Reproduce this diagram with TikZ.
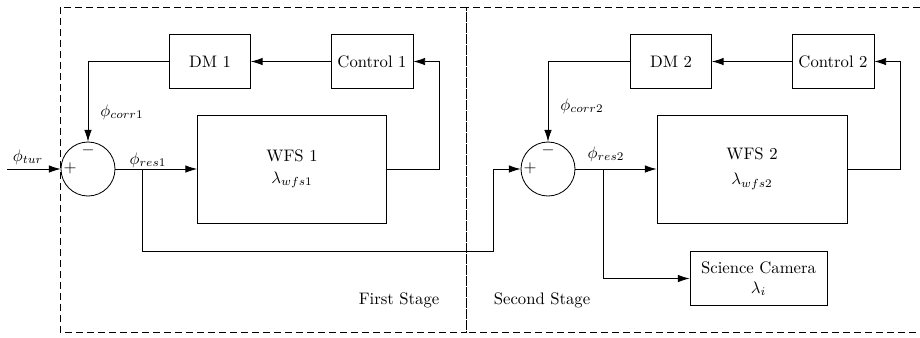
\documentclass[tikz,border=0pt]{standalone}
\usetikzlibrary{arrows.meta}
\begin{document}
\begin{tikzpicture}[x=0.6pt,y=-0.6pt,
  every path/.style={line width=0.5pt},
  arr/.style={-{Latex[length=7pt,width=4.5pt]}},
  blk/.style={draw, inner sep=1pt, align=center},
  sumc/.style={draw, circle, minimum size=32.4pt, inner sep=0pt},
  stage/.style={draw, dashed, dash pattern=on 4pt off 2.6pt}]
\useasboundingbox (0,0) rectangle (920,337);
% stage frames
\draw[stage] (60,7) rectangle (466.5,332);
\draw[stage] (920,7) -- (466.5,7) -- (466.5,332) -- (920,332);
\node (fs) at (399,300) {First Stage};
\node (ss) at (542,300) {Second Stage};
% first stage
\node[sumc] (s1) at (88,169) {};
\node (p1) at (70,168) {$+$};
\node (m1) at (88,150) {$-$};
\node[blk, minimum width=48.6pt, minimum height=32.4pt] (dm1) at (210,61.5) {DM 1};
\node[blk, minimum width=49.2pt, minimum height=32.4pt] (ctl1) at (372,61.5) {Control 1};
\node[blk, minimum width=113.4pt, minimum height=64.8pt] (wfs1) at (292,169) {WFS 1\\[1pt]$\lambda_{wfs1}$};
% second stage
\node[sumc] (s2) at (548,169) {};
\node (p2) at (530,168) {$+$};
\node (m2) at (548,150) {$-$};
\node[blk, minimum width=48.6pt, minimum height=32.4pt] (dm2) at (671,61.5) {DM 2};
\node[blk, minimum width=49.2pt, minimum height=32.4pt] (ctl2) at (833,61.5) {Control 2};
\node[blk, minimum width=114pt, minimum height=64.8pt] (wfs2) at (752,169) {WFS 2\\[3pt]$\lambda_{wfs2}$};
\node[blk, minimum width=82.2pt, minimum height=32pt] (cam) at (758.5,278.5) {Science Camera\\$\lambda_i$};
% labels
\node (ltur) at (28,157) {$\phi_{tur}$};
\node (lc1) at (122,112) {$\phi_{corr1}$};
\node (lr1) at (148,160) {$\phi_{res1}$};
\node (lc2) at (582,106) {$\phi_{corr2}$};
\node (lr2) at (606,154) {$\phi_{res2}$};
% coordinates
\coordinate (in) at (7,169);
\coordinate (r1) at (439,169);
\coordinate (b1) at (142,169);
\coordinate (j1) at (493,251);
\coordinate (r2) at (900,169);
\coordinate (b2) at (603,169);
% connectors
\draw[arr] (in) -- (s1.west);
\draw[arr] (s1.east) -- (wfs1.west);
\draw[arr] (wfs1.east) -- (r1) |- (ctl1.east);
\draw[arr] (ctl1.west) -- (dm1.east);
\draw[arr] (dm1.west) -| (s1.north);
\draw[arr] (b1) |- (j1) |- (s2.west);
\draw[arr] (s2.east) -- (wfs2.west);
\draw[arr] (wfs2.east) -- (r2) |- (ctl2.east);
\draw[arr] (ctl2.west) -- (dm2.east);
\draw[arr] (dm2.west) -| (s2.north);
\draw[arr] (b2) |- (cam.west);
\end{tikzpicture}
\end{document}
